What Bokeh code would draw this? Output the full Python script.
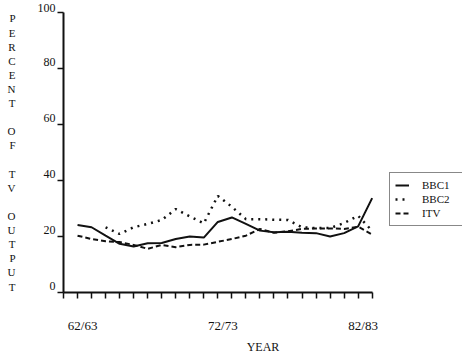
import math
from bokeh.plotting import figure
from bokeh.models import Range1d, FixedTicker, Legend, LegendItem
from bokeh.embed import file_html
from bokeh.resources import INLINE

# ---- data ----
years = list(range(62, 84))            # 62/63 ... 83/84 (start year)
bbc1 = [24.1, 23.3, 20.3, 17.4, 16.4, 17.6, 17.7, 19.1, 20.0, 19.6, 25.2,
        26.8, 24.5, 22.1, 21.5, 21.7, 21.3, 21.2, 20.0, 21.2, 23.6, 33.7]
bbc2_years = list(range(64, 84))       # BBC2 starts 64/65
bbc2 = [23.3, 20.9, 23.3, 24.5, 25.9, 29.8, 27.2, 24.7, 34.5, 30.6,
        26.2, 26.2, 26.0, 25.9, 23.3, 23.0, 23.0, 24.8, 27.4, 22.0]
itv = [20.3, 19.1, 18.3, 18.0, 17.0, 15.6, 17.0, 16.2, 17.0, 17.1, 18.1,
       19.1, 20.3, 22.7, 21.3, 21.9, 22.7, 22.9, 22.9, 22.7, 23.5, 20.7]
tick_years = [62, 72, 82]
tick_labels = ["62/63", "72/73", "82/83"]
y_ticks = [0, 20, 40, 60, 80, 100]
y_title = "PERCENT OF TV OUTPUT"
x_title = "YEAR"

FONT = "Liberation Serif"
INK = "#111111"

x0, x1 = 61, 83
px_per_year = 14.03
frame_w = 462 - 63
p = figure(width=462, height=356, output_backend="svg", toolbar_location=None,
           x_range=Range1d(x0, x0 + frame_w / px_per_year),
           y_range=Range1d(0, 100),
           min_border_left=63, min_border_right=0, min_border_top=12,
           min_border_bottom=62)
p.outline_line_color = None
p.xgrid.visible = False
p.ygrid.visible = False
p.background_fill_color = "white"
p.border_fill_color = "white"

r1 = p.line(years, bbc1, line_color=INK, line_width=2)
r2 = p.line(bbc2_years, bbc2, line_color=INK, line_width=2.5, line_dash="2 5")
r3 = p.line(years, itv, line_color=INK, line_width=2, line_dash="5 3")

# x axis
shift = 0.36
maj = [y + shift for y in tick_years]
xa = p.xaxis[0]
xa.bounds = (x0, x1)
xa.ticker = FixedTicker(ticks=maj, minor_ticks=list(range(x0, x1 + 1)))
xa.major_label_overrides = {m: l for m, l in zip(maj, tick_labels)}
xa.major_tick_out = 0
xa.major_tick_in = 0
xa.minor_tick_out = 6
xa.minor_tick_in = 0
xa.minor_tick_line_color = INK
xa.minor_tick_line_width = 1.5
xa.axis_line_color = INK
xa.axis_line_width = 2
xa.major_label_standoff = 19
xa.major_label_text_font = FONT
xa.major_label_text_font_size = "13px"
xa.major_label_text_color = INK
xa.axis_label = x_title
xa.axis_label_text_font = FONT
xa.axis_label_text_font_size = "12px"
xa.axis_label_text_font_style = "normal"
xa.axis_label_text_color = INK
xa.axis_label_standoff = 4

# y axis
ya = p.yaxis[0]
ya.bounds = (0, 100)
ya.ticker = FixedTicker(ticks=y_ticks, minor_ticks=[])
ya.major_label_overrides = {t: f"{t}\n\u00a0" for t in y_ticks}
ya.major_label_text_line_height = 0.9
ya.major_tick_out = 6
ya.major_tick_in = 0
ya.major_tick_line_color = INK
ya.major_tick_line_width = 1.5
ya.axis_line_color = INK
ya.axis_line_width = 2
ya.major_label_standoff = 2
ya.major_label_text_font = FONT
ya.major_label_text_font_size = "12px"
ya.major_label_text_color = INK
ya.axis_label = "\n".join(ch if ch != " " else "\u00a0" for ch in y_title)
ya.axis_label_orientation = "horizontal"
ya.axis_label_text_font = FONT
ya.axis_label_text_font_size = "11px"
ya.axis_label_text_font_style = "normal"
ya.axis_label_text_color = INK
ya.axis_label_text_line_height = 1.176
ya.axis_label_standoff = 19

legend = Legend(items=[LegendItem(label="BBC1", renderers=[r1]),
                       LegendItem(label="BBC2", renderers=[r2]),
                       LegendItem(label="ITV", renderers=[r3])],
                location=(326, 66))
legend.border_line_color = INK
legend.border_line_width = 1
legend.background_fill_color = "white"
legend.background_fill_alpha = 1
legend.padding = 5
legend.spacing = 0
legend.margin = 0
legend.glyph_width = 14
legend.glyph_height = 14
legend.label_height = 14
legend.label_width = 35
legend.label_standoff = 13
legend.label_text_font = FONT
legend.label_text_font_size = "11px"
legend.label_text_color = INK
p.add_layout(legend)

open("out.html", "w").write(file_html(p, INLINE))
